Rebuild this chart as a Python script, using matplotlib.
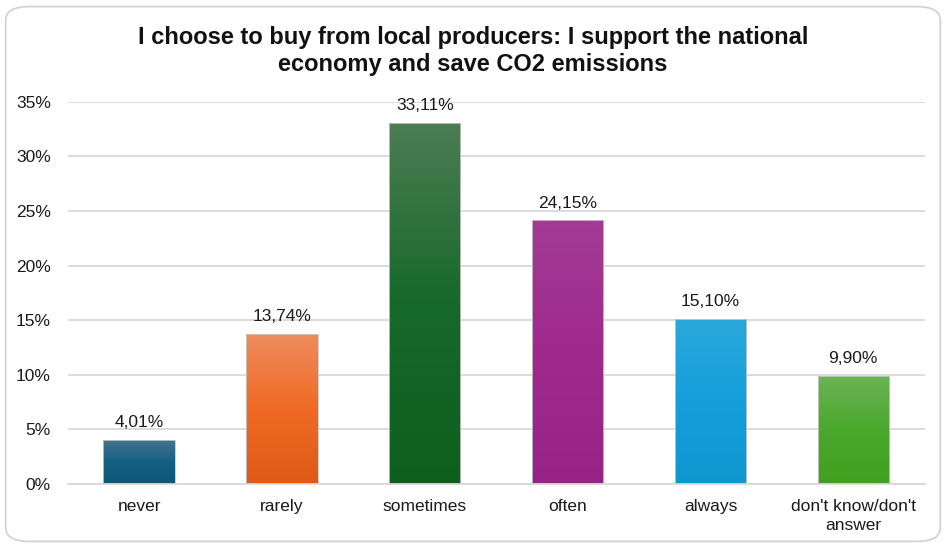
import matplotlib.pyplot as plt
import numpy as np
from matplotlib.colors import LinearSegmentedColormap
from matplotlib.patches import FancyBboxPatch

categories = ['never', 'rarely', 'sometimes', 'often', 'always', "don't know/don't\nanswer"]
values = [4.01, 13.74, 33.11, 24.15, 15.10, 9.90]
labels = ['4,01%', '13,74%', '33,11%', '24,15%', '15,10%', '9,90%']
yticks = [0, 5, 10, 15, 20, 25, 30, 35]

# top, middle, bottom colour of each bar's gradient
bar_colors = [
    ('#44748f', '#145f83', '#0d5777'),
    ('#ee8c5e', '#f06a24', '#dd5b17'),
    ('#4c7d53', '#17692a', '#0f5e1e'),
    ('#a43a95', '#9e2a8e', '#962486'),
    ('#2aa8dc', '#149fd9', '#0f98d0'),
    ('#6bb456', '#4aa82c', '#41a01f'),
]

plt.rcParams['font.family'] = ['Liberation Sans', 'DejaVu Sans']

fig = plt.figure(figsize=(9.46, 5.48), dpi=100)
ax = fig.add_axes([0.0715, 0.117, 0.906, 0.697])

# rounded border of the chart area
border = FancyBboxPatch((0.006, 0.012), 0.988, 0.976,
                        boxstyle='round,pad=0,rounding_size=0.025',
                        transform=fig.transFigure, facecolor='white',
                        edgecolor='#d0d0d0', linewidth=1.2, zorder=-10)
fig.patches.append(border)

x = np.arange(len(categories))
bars = ax.bar(x, values, width=0.5, color='none', edgecolor='#c8c8c8',
              linewidth=0.6, zorder=3)

for b, (c_top, c_mid, c_bot) in zip(bars, bar_colors):
    cmap = LinearSegmentedColormap.from_list('g', [c_bot, c_mid, c_top])
    grad = np.linspace(0, 1, 256).reshape(-1, 1)
    x0 = b.get_x()
    w = b.get_width()
    h = b.get_height()
    im = ax.imshow(grad, cmap=cmap, origin='lower', aspect='auto',
                   extent=(x0, x0 + w, 0, h), zorder=2)
    im.set_clip_path(b)

for xi, v, lab in zip(x, values, labels):
    ax.annotate(lab, (xi, v), xytext=(0, 7), textcoords='offset points',
                ha='center', va='bottom', fontsize=12.5, color='#1a1a1a')

ax.set_xlim(-0.5, len(categories) - 0.5)
ax.set_ylim(0, 35)
ax.set_yticks(yticks)
ax.set_yticklabels([f'{t}%' for t in yticks], fontsize=12.5, color='#1a1a1a')
ax.set_xticks(x)
ax.set_xticklabels(categories, fontsize=12.5, color='#1a1a1a', linespacing=1.35)
ax.tick_params(length=0)
ax.tick_params(axis='x', pad=11)
ax.tick_params(axis='y', pad=12)

ax.yaxis.grid(True, color='#d9d9d9', linewidth=1.3, zorder=0)
ax.set_axisbelow(True)
for s in ['top', 'right', 'left']:
    ax.spines[s].set_visible(False)
ax.spines['bottom'].set_color('#d9d9d9')
ax.spines['bottom'].set_linewidth(1.3)
ax.set_facecolor('none')

fig.text(0.5, 0.907,
         'I choose to buy from local producers: I support the national\neconomy and save CO2 emissions',
         ha='center', va='center', fontsize=17, fontweight='bold',
         color='#111111', linespacing=1.25)

fig.savefig('out.png', dpi=100)
